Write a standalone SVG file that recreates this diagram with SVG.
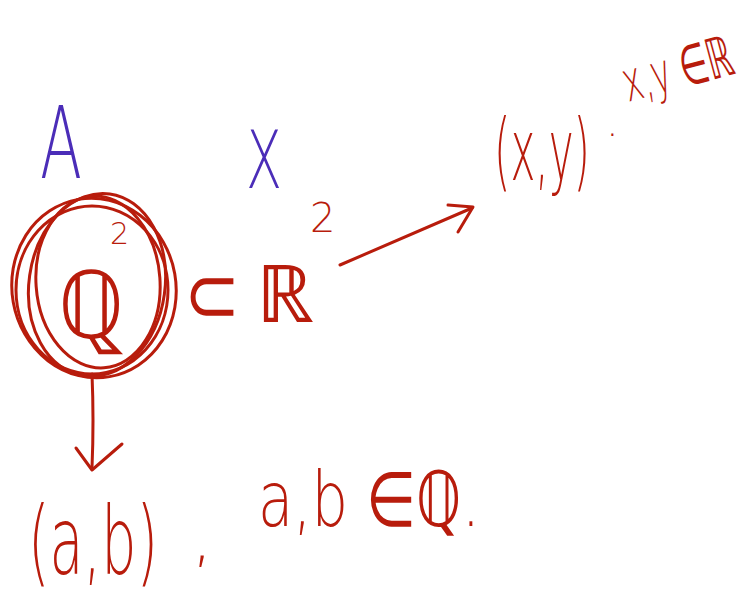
<svg xmlns="http://www.w3.org/2000/svg" width="753" height="596" viewBox="0 0 753 596">
<style>
.red{fill:#b81c0c;font-family:"DejaVu Sans",sans-serif;font-weight:300}
.pur{fill:#4b2db8;font-family:"DejaVu Sans",sans-serif;font-weight:300}
.ink{fill:none;stroke:#b81c0c;stroke-width:3;stroke-linecap:round;stroke-linejoin:round}
</style>
<rect width="753" height="596" fill="#fff"/>
<g id="label-A"><text class="pur" x="40" y="178" font-size="100" textLength="42" lengthAdjust="spacingAndGlyphs">A</text></g>
<g id="label-X"><text class="pur" x="246" y="188" font-size="80" textLength="36" lengthAdjust="spacingAndGlyphs">X</text></g>
<g id="set-Q2">
<ellipse class="ink" cx="94" cy="288" rx="82" ry="90" transform="rotate(-10 94 288)"/>
<ellipse class="ink" cx="97" cy="285" rx="68" ry="92" transform="rotate(8 97 285)"/>
<ellipse class="ink" cx="92" cy="290" rx="76" ry="84"/>
<ellipse class="ink" cx="98" cy="282" rx="62" ry="86" transform="rotate(-4 98 282)"/>
<text class="red" x="58" y="338" font-size="95" textLength="66" lengthAdjust="spacingAndGlyphs">ℚ</text>
<text class="red" x="110" y="244" font-size="30">2</text>
</g>
<g id="set-R2">
<text class="red" x="184" y="322" font-size="80" textLength="56" lengthAdjust="spacingAndGlyphs">⊂</text>
<text class="red" x="256" y="322" font-size="80" textLength="58" lengthAdjust="spacingAndGlyphs">ℝ</text>
<text class="red" x="310" y="232" font-size="40">2</text>
</g>
<g id="point-xy">
<text class="red" x="494" y="180" font-size="85" textLength="96" lengthAdjust="spacingAndGlyphs">(x,y)</text>
<text class="red" x="606" y="136" font-size="40">.</text>
<text class="red" x="628" y="102" font-size="56" textLength="112" lengthAdjust="spacingAndGlyphs" transform="rotate(-15 628 102)">x,y ∈ℝ</text>
</g>
<g id="point-ab">
<text class="red" x="28" y="574" font-size="95" textLength="130" lengthAdjust="spacingAndGlyphs">(a,b)</text>
<text class="red" x="192" y="560" font-size="64">,</text>
<text class="red" x="258" y="526" font-size="76" textLength="222" lengthAdjust="spacingAndGlyphs">a,b ∈ℚ.</text>
</g>
<g id="connectors">
<path class="ink" d="M340 265 Q410 235 472 208"/>
<path class="ink" d="M448 205 L473 207 L458 232"/>
<path class="ink" d="M92 374 Q94 420 92 468"/>
<path class="ink" d="M76 448 L92 470 L122 444"/>
</g>
</svg>
